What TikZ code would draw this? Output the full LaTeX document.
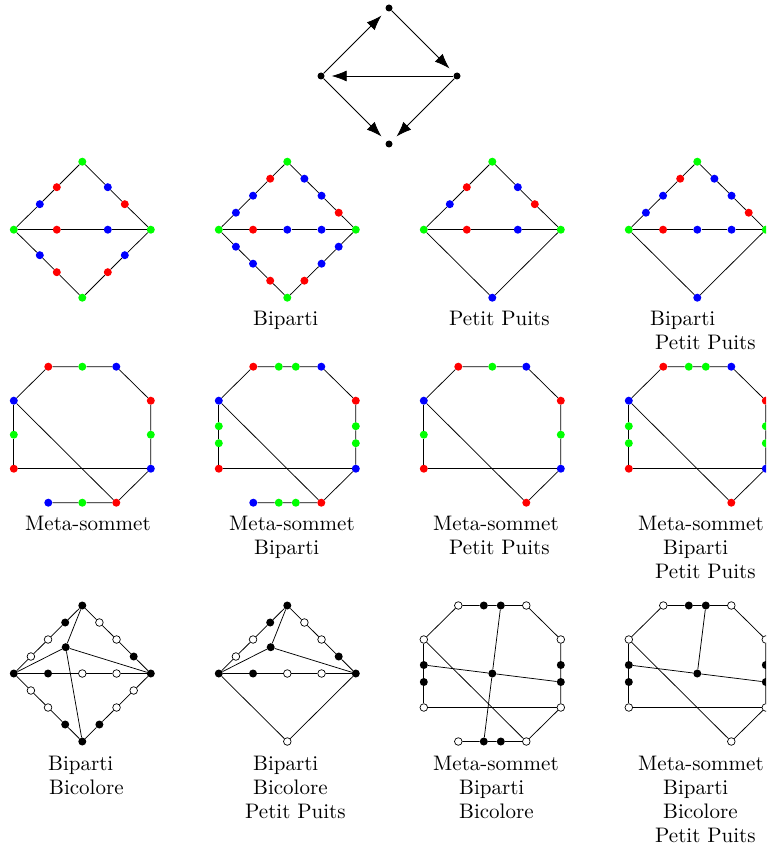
\documentclass[tikz,border=0pt]{standalone}
\usetikzlibrary{arrows.meta}
\begin{document}
\begin{tikzpicture}[x=1pt,y=-1pt,
  vx/.style={circle,inner sep=0pt,minimum size=8pt},
  vR/.style={vx,fill=red}, vG/.style={vx,fill=green}, vB/.style={vx,fill=blue},
  vF/.style={vx,fill=black},
  vH/.style={vx,draw=black,fill=white,line width=0.7pt,minimum size=7.6pt},
  vK/.style={vx,fill=black,minimum size=7pt},
  ed/.style={line width=0.75pt},
  arr/.style={ed,-{Latex[length=15pt,width=11pt]},shorten >=7pt},
  lab/.style={anchor=base west,inner sep=0pt}]
\useasboundingbox (0,0) rectangle (766,853);
\clip (0,0) rectangle (766,853);
% ---------- top graph
\begin{scope}[shift={(389,76)},name prefix=top-]
\node[vK] (t) at (0,-68) {}; \node[vK] (l) at (-68,0) {};
\node[vK] (r) at (68,0) {}; \node[vK] (b) at (0,68) {};
\draw[arr] (l) -- (t); \draw[arr] (t) -- (r); \draw[arr] (r) -- (l);
\draw[arr] (l) -- (b); \draw[arr] (r) -- (b);
\end{scope}
% ---------- row 1 col 1
\begin{scope}[shift={(82.3,229.7)},name prefix=a-]
\node[vG] (L) at (-68.5,0) {}; \node[vG] (T) at (0,-68) {};
\node[vG] (R) at (68.5,0) {}; \node[vG] (D) at (0,68) {};
\node[vB] (u1) at (-42.5,-25.5) {}; \node[vR] (u2) at (-25.5,-42.5) {};
\node[vB] (v1) at (25.5,-42.5) {}; \node[vR] (v2) at (42.5,-25.5) {};
\node[vR] (m1) at (-25.5,0) {}; \node[vB] (m2) at (25.5,0) {};
\node[vB] (w1) at (-42.5,25.5) {}; \node[vR] (w2) at (-25.5,42.5) {};
\node[vR] (x1) at (25.5,42.5) {}; \node[vB] (x2) at (42.5,25.5) {};
\draw[ed] (L)--(u1)--(u2)--(T)--(v1)--(v2)--(R);
\draw[ed] (L)--(m1)--(m2)--(R);
\draw[ed] (L)--(w1)--(w2)--(D)--(x1)--(x2)--(R);
\end{scope}
% ---------- row 1 col 2
\begin{scope}[shift={(287.3,229.7)},name prefix=b-]
\node[vG] (L) at (-68.5,0) {}; \node[vG] (T) at (0,-68) {};
\node[vG] (R) at (68.5,0) {}; \node[vG] (D) at (0,68) {};
\node[vB] (u1) at (-51.4,-17) {}; \node[vB] (u2) at (-34.25,-34) {}; \node[vR] (u3) at (-17.1,-51) {};
\node[vB] (v1) at (17.1,-51) {}; \node[vB] (v2) at (34.25,-34) {}; \node[vR] (v3) at (51.4,-17) {};
\node[vR] (m1) at (-34.25,0) {}; \node[vB] (m2) at (0,0) {}; \node[vB] (m3) at (34.25,0) {};
\node[vB] (w1) at (-51.4,17) {}; \node[vB] (w2) at (-34.25,34) {}; \node[vR] (w3) at (-17.1,51) {};
\node[vR] (x1) at (17.1,51) {}; \node[vB] (x2) at (34.25,34) {}; \node[vB] (x3) at (51.4,17) {};
\draw[ed] (L)--(u1)--(u2)--(u3)--(T)--(v1)--(v2)--(v3)--(R);
\draw[ed] (L)--(m1)--(m2)--(m3)--(R);
\draw[ed] (L)--(w1)--(w2)--(w3)--(D)--(x1)--(x2)--(x3)--(R);
\end{scope}
% ---------- row 1 col 3
\begin{scope}[shift={(492.3,229.7)},name prefix=c-]
\node[vG] (L) at (-68.5,0) {}; \node[vG] (T) at (0,-68) {};
\node[vG] (R) at (68.5,0) {}; \node[vB] (D) at (0,68) {};
\node[vB] (u1) at (-42.5,-25.5) {}; \node[vR] (u2) at (-25.5,-42.5) {};
\node[vB] (v1) at (25.5,-42.5) {}; \node[vR] (v2) at (42.5,-25.5) {};
\node[vR] (m1) at (-25.5,0) {}; \node[vB] (m2) at (25.5,0) {};
\draw[ed] (L)--(u1)--(u2)--(T)--(v1)--(v2)--(R);
\draw[ed] (L)--(m1)--(m2)--(R);
\draw[ed] (L)--(D)--(R);
\end{scope}
% ---------- row 1 col 4
\begin{scope}[shift={(697.3,229.7)},name prefix=d-]
\node[vG] (L) at (-68.5,0) {}; \node[vG] (T) at (0,-68) {};
\node[vG] (R) at (68.5,0) {}; \node[vB] (D) at (0,68) {};
\node[vB] (u1) at (-51.4,-17) {}; \node[vB] (u2) at (-34.25,-34) {}; \node[vR] (u3) at (-17.1,-51) {};
\node[vB] (v1) at (17.1,-51) {}; \node[vB] (v2) at (34.25,-34) {}; \node[vR] (v3) at (51.4,-17) {};
\node[vR] (m1) at (-34.25,0) {}; \node[vB] (m2) at (0,0) {}; \node[vB] (m3) at (34.25,0) {};
\draw[ed] (L)--(u1)--(u2)--(u3)--(T)--(v1)--(v2)--(v3)--(R);
\draw[ed] (L)--(m1)--(m2)--(m3)--(R);
\draw[ed] (L)--(D)--(R);
\end{scope}
% ---------- row 2 col 1
\begin{scope}[shift={(82.3,434.7)},name prefix=e-]
\node[vR] (t1) at (-34,-68) {}; \node[vG] (t2) at (0,-68) {}; \node[vB] (t3) at (34,-68) {};
\node[vR] (r1) at (68.5,-34) {}; \node[vG] (r2) at (68.5,0) {}; \node[vB] (r3) at (68.5,34) {};
\node[vB] (l1) at (-68.5,-34) {}; \node[vG] (l2) at (-68.5,0) {}; \node[vR] (l3) at (-68.5,34) {};
\node[vR] (b1) at (34,68) {}; \node[vG] (b2) at (0,68) {}; \node[vB] (b3) at (-34,68) {};
\draw[ed] (l1)--(t1)--(t2)--(t3)--(r1)--(r2)--(r3)--(b1)--(b2)--(b3);
\draw[ed] (l1)--(l2)--(l3)--(r3);
\draw[ed] (l1)--(b1);
\end{scope}
% ---------- row 2 col 2
\begin{scope}[shift={(287.3,434.7)},name prefix=f-]
\node[vR] (t1) at (-34,-68) {}; \node[vG] (t2) at (-8.5,-68) {}; \node[vG] (t3) at (8.5,-68) {}; \node[vB] (t4) at (34,-68) {};
\node[vR] (r1) at (68.5,-34) {}; \node[vG] (r2) at (68.5,-8.5) {}; \node[vG] (r3) at (68.5,8.5) {}; \node[vB] (r4) at (68.5,34) {};
\node[vB] (l1) at (-68.5,-34) {}; \node[vG] (l2) at (-68.5,-8.5) {}; \node[vG] (l3) at (-68.5,8.5) {}; \node[vR] (l4) at (-68.5,34) {};
\node[vR] (b1) at (34,68) {}; \node[vG] (b2) at (8.5,68) {}; \node[vG] (b3) at (-8.5,68) {}; \node[vB] (b4) at (-34,68) {};
\draw[ed] (l1)--(t1)--(t2)--(t3)--(t4)--(r1)--(r2)--(r3)--(r4)--(b1)--(b2)--(b3)--(b4);
\draw[ed] (l1)--(l2)--(l3)--(l4)--(r4);
\draw[ed] (l1)--(b1);
\end{scope}
% ---------- row 2 col 3
\begin{scope}[shift={(492.3,434.7)},name prefix=g-]
\node[vR] (t1) at (-34,-68) {}; \node[vG] (t2) at (0,-68) {}; \node[vB] (t3) at (34,-68) {};
\node[vR] (r1) at (68.5,-34) {}; \node[vG] (r2) at (68.5,0) {}; \node[vB] (r3) at (68.5,34) {};
\node[vB] (l1) at (-68.5,-34) {}; \node[vG] (l2) at (-68.5,0) {}; \node[vR] (l3) at (-68.5,34) {};
\node[vR] (b1) at (34,68) {};
\draw[ed] (l1)--(t1)--(t2)--(t3)--(r1)--(r2)--(r3)--(b1);
\draw[ed] (l1)--(l2)--(l3)--(r3);
\draw[ed] (l1)--(b1);
\end{scope}
% ---------- row 2 col 4
\begin{scope}[shift={(697.3,434.7)},name prefix=h-]
\node[vR] (t1) at (-34,-68) {}; \node[vG] (t2) at (-8.5,-68) {}; \node[vG] (t3) at (8.5,-68) {}; \node[vB] (t4) at (34,-68) {};
\node[vR] (r1) at (68.5,-34) {}; \node[vG] (r2) at (68.5,-8.5) {}; \node[vG] (r3) at (68.5,8.5) {}; \node[vB] (r4) at (68.5,34) {};
\node[vB] (l1) at (-68.5,-34) {}; \node[vG] (l2) at (-68.5,-8.5) {}; \node[vG] (l3) at (-68.5,8.5) {}; \node[vR] (l4) at (-68.5,34) {};
\node[vR] (b1) at (34,68) {};
\draw[ed] (l1)--(t1)--(t2)--(t3)--(t4)--(r1)--(r2)--(r3)--(r4)--(b1);
\draw[ed] (l1)--(l2)--(l3)--(l4)--(r4);
\draw[ed] (l1)--(b1);
\end{scope}
% ---------- row 3 col 1
\begin{scope}[shift={(82.3,673.5)},name prefix=i-]
\node[vF] (L) at (-68.5,0) {}; \node[vF] (T) at (0,-68) {};
\node[vF] (R) at (68.5,0) {}; \node[vF] (D) at (0,68) {};
\node[vH] (u1) at (-51.4,-17) {}; \node[vH] (u2) at (-34.25,-34) {}; \node[vF] (u3) at (-17.1,-51) {};
\node[vH] (v1) at (17.1,-51) {}; \node[vH] (v2) at (34.25,-34) {}; \node[vF] (v3) at (51.4,-17) {};
\node[vF] (m1) at (-34.25,0) {}; \node[vH] (m2) at (0,0) {}; \node[vH] (m3) at (34.25,0) {};
\node[vH] (w1) at (-51.4,17) {}; \node[vH] (w2) at (-34.25,34) {}; \node[vF] (w3) at (-17.1,51) {};
\node[vF] (x1) at (17.1,51) {}; \node[vH] (x2) at (34.25,34) {}; \node[vH] (x3) at (51.4,17) {};
\node[vF] (c) at (-16.6,-26.3) {};
\draw[ed] (L)--(u1)--(u2)--(u3)--(T)--(v1)--(v2)--(v3)--(R);
\draw[ed] (L)--(m1)--(m2)--(m3)--(R);
\draw[ed] (L)--(w1)--(w2)--(w3)--(D)--(x1)--(x2)--(x3)--(R);
\draw[ed] (c)--(T); \draw[ed] (c)--(L); \draw[ed] (c)--(R); \draw[ed] (c)--(D);
\end{scope}
% ---------- row 3 col 2
\begin{scope}[shift={(287.3,673.5)},name prefix=j-]
\node[vF] (L) at (-68.5,0) {}; \node[vF] (T) at (0,-68) {};
\node[vF] (R) at (68.5,0) {}; \node[vH] (D) at (0,68) {};
\node[vH] (u1) at (-51.4,-17) {}; \node[vH] (u2) at (-34.25,-34) {}; \node[vF] (u3) at (-17.1,-51) {};
\node[vH] (v1) at (17.1,-51) {}; \node[vH] (v2) at (34.25,-34) {}; \node[vF] (v3) at (51.4,-17) {};
\node[vF] (m1) at (-34.25,0) {}; \node[vH] (m2) at (0,0) {}; \node[vH] (m3) at (34.25,0) {};
\node[vF] (c) at (-16.6,-26.3) {};
\draw[ed] (L)--(u1)--(u2)--(u3)--(T)--(v1)--(v2)--(v3)--(R);
\draw[ed] (L)--(m1)--(m2)--(m3)--(R);
\draw[ed] (L)--(D)--(R);
\draw[ed] (c)--(T); \draw[ed] (c)--(L); \draw[ed] (c)--(R);
\end{scope}
% ---------- row 3 col 3
\begin{scope}[shift={(492.3,673.5)},name prefix=k-]
\node[vH] (t1) at (-34,-68) {}; \node[vF] (t2) at (-8.5,-68) {}; \node[vF] (t3) at (8.5,-68) {}; \node[vH] (t4) at (34,-68) {};
\node[vH] (r1) at (68.5,-34) {}; \node[vF] (r2) at (68.5,-8.5) {}; \node[vF] (r3) at (68.5,8.5) {}; \node[vH] (r4) at (68.5,34) {};
\node[vH] (l1) at (-68.5,-34) {}; \node[vF] (l2) at (-68.5,-8.5) {}; \node[vF] (l3) at (-68.5,8.5) {}; \node[vH] (l4) at (-68.5,34) {};
\node[vH] (b1) at (34,68) {}; \node[vF] (b2) at (8.5,68) {}; \node[vF] (b3) at (-8.5,68) {}; \node[vH] (b4) at (-34,68) {};
\node[vF] (c) at (0,0) {};
\draw[ed] (l1)--(t1)--(t2)--(t3)--(t4)--(r1)--(r2)--(r3)--(r4)--(b1)--(b2)--(b3)--(b4);
\draw[ed] (l1)--(l2)--(l3)--(l4)--(r4);
\draw[ed] (l1)--(b1);
\draw[ed] (c)--(t3); \draw[ed] (c)--(b3); \draw[ed] (c)--(l2); \draw[ed] (c)--(r3);
\end{scope}
% ---------- row 3 col 4
\begin{scope}[shift={(697.3,673.5)},name prefix=m-]
\node[vH] (t1) at (-34,-68) {}; \node[vF] (t2) at (-8.5,-68) {}; \node[vF] (t3) at (8.5,-68) {}; \node[vH] (t4) at (34,-68) {};
\node[vH] (r1) at (68.5,-34) {}; \node[vF] (r2) at (68.5,-8.5) {}; \node[vF] (r3) at (68.5,8.5) {}; \node[vH] (r4) at (68.5,34) {};
\node[vH] (l1) at (-68.5,-34) {}; \node[vF] (l2) at (-68.5,-8.5) {}; \node[vF] (l3) at (-68.5,8.5) {}; \node[vH] (l4) at (-68.5,34) {};
\node[vH] (b1) at (34,68) {};
\node[vF] (c) at (0,0) {};
\draw[ed] (l1)--(t1)--(t2)--(t3)--(t4)--(r1)--(r2)--(r3)--(r4)--(b1);
\draw[ed] (l1)--(l2)--(l3)--(l4)--(r4);
\draw[ed] (l1)--(b1);
\draw[ed] (c)--(t3); \draw[ed] (c)--(l2); \draw[ed] (c)--(r3);
\end{scope}
% ---------- labels
\node[lab] (lb1) at (253,325) {\scalebox{2.1}{Biparti}};
\node[lab] (lc1) at (449,325) {\scalebox{2.1}{Petit Puits}};
\node[lab] (ld1) at (650,325) {\scalebox{2.1}{Biparti}};
\node[lab] (ld2) at (655,349) {\scalebox{2.1}{Petit Puits}};
\node[lab] (le1) at (25,530) {\scalebox{2.1}{Meta-sommet}};
\node[lab] (lf1) at (229,530) {\scalebox{2.1}{Meta-sommet}};
\node[lab] (lf2) at (254,554) {\scalebox{2.1}{Biparti}};
\node[lab] (lg1) at (433,530) {\scalebox{2.1}{Meta-sommet}};
\node[lab] (lg2) at (449,554) {\scalebox{2.1}{Petit Puits}};
\node[lab] (lh1) at (638,530) {\scalebox{2.1}{Meta-sommet}};
\node[lab] (lh2) at (663,554) {\scalebox{2.1}{Biparti}};
\node[lab] (lh3) at (655,578) {\scalebox{2.1}{Petit Puits}};
\node[lab] (li1) at (48,770) {\scalebox{2.1}{Biparti}};
\node[lab] (li2) at (49,794) {\scalebox{2.1}{Bicolore}};
\node[lab] (lj1) at (253,770) {\scalebox{2.1}{Biparti}};
\node[lab] (lj2) at (253,794) {\scalebox{2.1}{Bicolore}};
\node[lab] (lj3) at (245,818) {\scalebox{2.1}{Petit Puits}};
\node[lab] (lk1) at (433,770) {\scalebox{2.1}{Meta-sommet}};
\node[lab] (lk2) at (459,794) {\scalebox{2.1}{Biparti}};
\node[lab] (lk3) at (459,818) {\scalebox{2.1}{Bicolore}};
\node[lab] (lm1) at (638,770) {\scalebox{2.1}{Meta-sommet}};
\node[lab] (lm2) at (663,794) {\scalebox{2.1}{Biparti}};
\node[lab] (lm3) at (663,818) {\scalebox{2.1}{Bicolore}};
\node[lab] (lm4) at (655,842) {\scalebox{2.1}{Petit Puits}};
\end{tikzpicture}
\end{document}
